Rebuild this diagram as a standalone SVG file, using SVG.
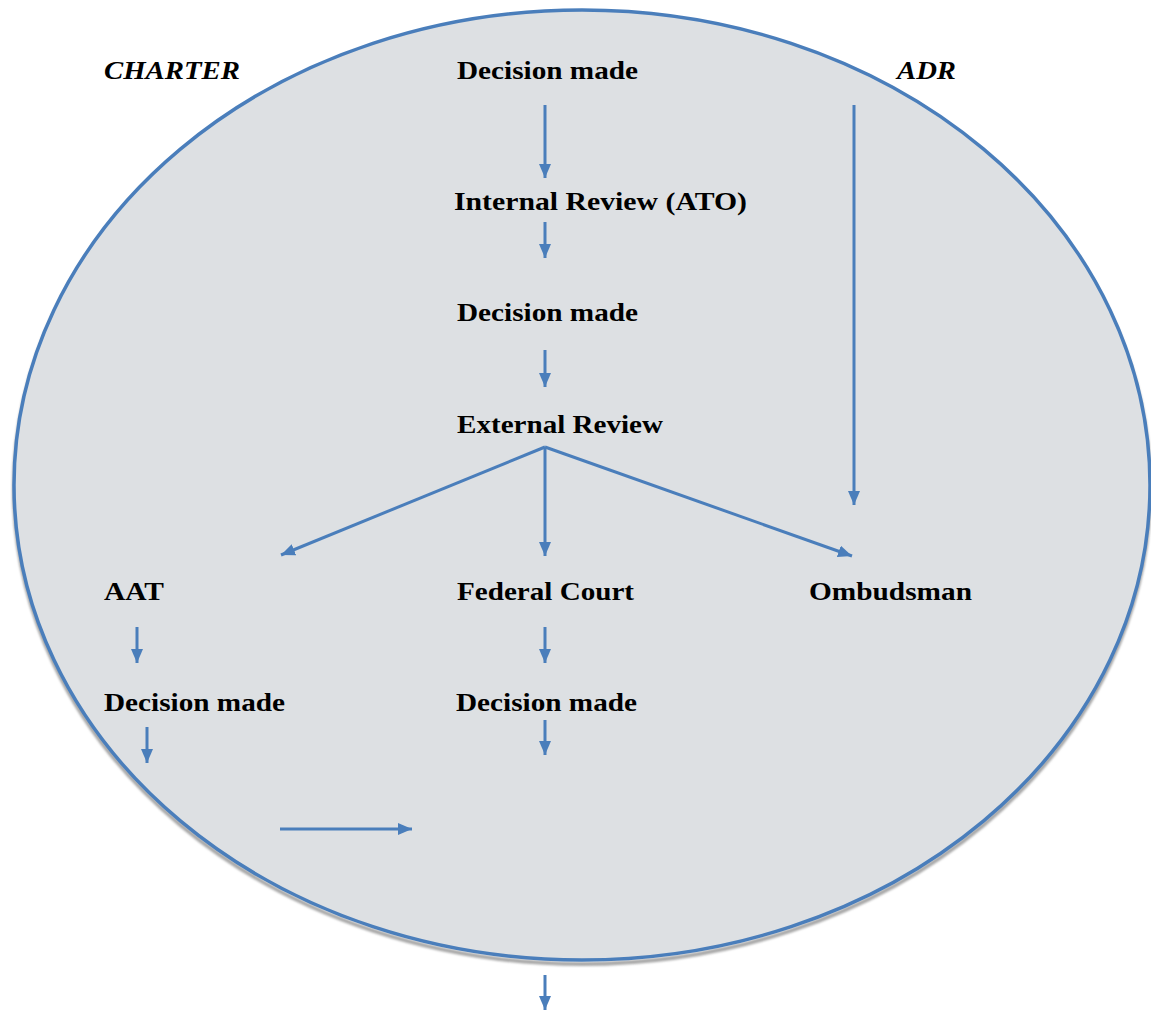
<svg xmlns="http://www.w3.org/2000/svg" width="1151" height="1012" viewBox="0 0 1151 1012">
<style>
.t{font-family:"Liberation Serif","Times New Roman",serif;font-weight:bold;font-size:26px;fill:#000}
.i{font-style:italic}
.c{fill:none;stroke:#4a7ebb;stroke-width:3}
</style>
<defs>
<marker id="ah" markerUnits="userSpaceOnUse" markerWidth="14" markerHeight="12" refX="14" refY="6" orient="auto" viewBox="0 0 14 12">
<path d="M0,0 L14,6 L0,12 Z" fill="#4a7ebb"/>
</marker>
<filter id="blur" x="-5%" y="-5%" width="110%" height="110%"><feGaussianBlur stdDeviation="1.2"/></filter>
</defs>
<rect width="1151" height="1012" fill="#ffffff"/>
<g id="boundary">
<ellipse cx="582" cy="489" rx="568" ry="475" fill="none" stroke="#a8a8a8" stroke-width="4" filter="url(#blur)"/>
<ellipse cx="582" cy="485" rx="568" ry="475" fill="#dde0e3" stroke="#4a7ebb" stroke-width="3.5"/>
</g>
<g id="connectors">
<line class="c" x1="545" y1="105" x2="545" y2="178" marker-end="url(#ah)"/>
<line class="c" x1="545" y1="222" x2="545" y2="258" marker-end="url(#ah)"/>
<line class="c" x1="545" y1="350" x2="545" y2="387" marker-end="url(#ah)"/>
<line class="c" x1="545" y1="447" x2="545" y2="556" marker-end="url(#ah)"/>
<line class="c" x1="545" y1="447" x2="281" y2="555" marker-end="url(#ah)"/>
<line class="c" x1="545" y1="447" x2="852" y2="556" marker-end="url(#ah)"/>
<line class="c" x1="854" y1="105" x2="854" y2="505" marker-end="url(#ah)"/>
<line class="c" x1="137" y1="627" x2="137" y2="663" marker-end="url(#ah)"/>
<line class="c" x1="545" y1="627" x2="545" y2="663" marker-end="url(#ah)"/>
<line class="c" x1="147" y1="727" x2="147" y2="763" marker-end="url(#ah)"/>
<line class="c" x1="545" y1="720" x2="545" y2="755" marker-end="url(#ah)"/>
<line class="c" x1="280" y1="829" x2="412" y2="829" marker-end="url(#ah)"/>
<line class="c" x1="545" y1="975" x2="545" y2="1010" marker-end="url(#ah)"/>
</g>
<g id="charter"><text class="t i" x="104" y="79" textLength="136" lengthAdjust="spacingAndGlyphs">CHARTER</text></g>
<g id="adr"><text class="t i" x="897" y="79" textLength="59" lengthAdjust="spacingAndGlyphs">ADR</text></g>
<g id="decision1"><text class="t" x="457" y="79" textLength="181" lengthAdjust="spacingAndGlyphs">Decision made</text></g>
<g id="internal-review"><text class="t" x="454" y="210" textLength="293" lengthAdjust="spacingAndGlyphs">Internal Review (ATO)</text></g>
<g id="decision2"><text class="t" x="457" y="321" textLength="181" lengthAdjust="spacingAndGlyphs">Decision made</text></g>
<g id="external-review"><text class="t" x="457" y="433" textLength="206" lengthAdjust="spacingAndGlyphs">External Review</text></g>
<g id="aat"><text class="t" x="104" y="600" textLength="60" lengthAdjust="spacingAndGlyphs">AAT</text></g>
<g id="federal-court"><text class="t" x="457" y="600" textLength="177" lengthAdjust="spacingAndGlyphs">Federal Court</text></g>
<g id="ombudsman"><text class="t" x="809" y="600" textLength="163" lengthAdjust="spacingAndGlyphs">Ombudsman</text></g>
<g id="decision-aat"><text class="t" x="104" y="711" textLength="181" lengthAdjust="spacingAndGlyphs">Decision made</text></g>
<g id="decision-fc"><text class="t" x="456" y="711" textLength="181" lengthAdjust="spacingAndGlyphs">Decision made</text></g>
</svg>
